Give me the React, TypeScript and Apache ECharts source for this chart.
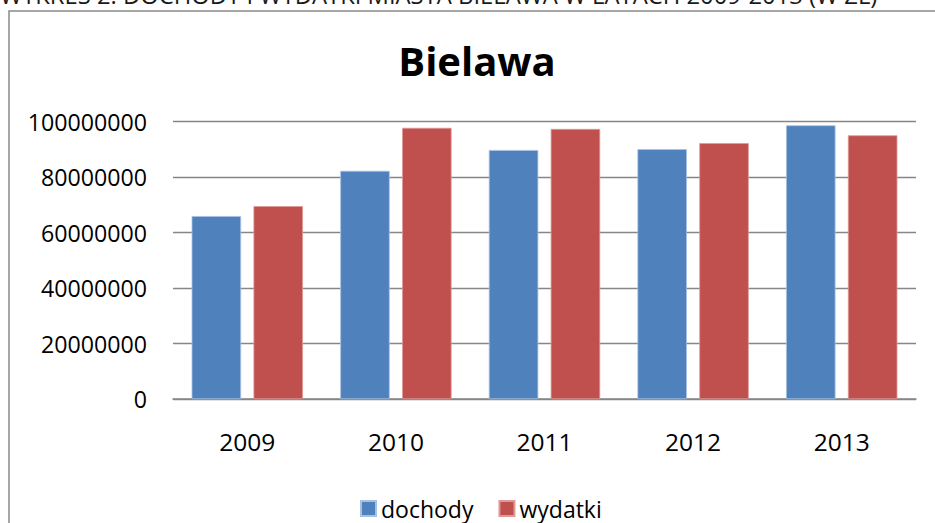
import React, { useEffect, useRef } from "react";
import * as echarts from "echarts";

const years = ["2009", "2010", "2011", "2012", "2013"];
const dochody = [66000000, 82300000, 89800000, 90100000, 98700000];
const wydatki = [69600000, 97800000, 97400000, 92300000, 95100000];
const seriesNames = ["dochody", "wydatki"];
const chartTitle = "Bielawa";
const caption = "WYKRES 2. DOCHODY I WYDATKI MIASTA BIELAWA W LATACH 2009-2013 (W ZŁ)";

const FONT = "'Open Sans', 'Noto Sans', sans-serif";

export default function App() {
  const ref = useRef<HTMLDivElement>(null);
  useEffect(() => {
    document.body.style.margin = "0";
    const chart = echarts.init(ref.current!, null, { renderer: "svg" });
    chart.setOption({
      animation: false,
      backgroundColor: "#ffffff",
      textStyle: { fontFamily: FONT },
      graphic: [
        {
          type: "text",
          x: 0,
          y: 7,
          silent: true,
          style: {
            text: caption,
            font: `23.8px ${FONT}`,
            fill: "#1a1a1a",
            textAlign: "left",
            textVerticalAlign: "bottom",
          },
        },
        {
          type: "rect",
          silent: true,
          shape: { x: 9, y: 11, width: 950, height: 600 },
          style: { fill: "none", stroke: "#898989", lineWidth: 1.5 },
        },
        {
          type: "text",
          x: 477,
          y: 60,
          silent: true,
          style: {
            text: chartTitle,
            font: `bold 40px ${FONT}`,
            fill: "#000000",
            textAlign: "center",
            textVerticalAlign: "middle",
          },
        },
      ],
      legend: {
        data: seriesNames,
        left: 360,
        top: 497,
        padding: 0,
        itemWidth: 15,
        itemHeight: 15,
        itemGap: 25,
        icon: "rect",
        textStyle: { fontSize: 23, color: "#000", fontFamily: FONT },
      },
      grid: {
        left: 173,
        right: 19,
        top: 121.7,
        bottom: 123.8,
        containLabel: false,
        outerBoundsMode: "none",
      },
      xAxis: {
        type: "category",
        data: years,
        axisLine: { show: true, lineStyle: { color: "#868686", width: 1.5 } },
        axisTick: { show: false },
        axisLabel: { fontSize: 24.5, color: "#000", margin: 30, fontFamily: FONT },
        splitLine: { show: false },
      },
      yAxis: {
        type: "value",
        min: 0,
        max: 100000000,
        interval: 20000000,
        axisLine: { show: false },
        axisTick: { show: false },
        axisLabel: {
          fontSize: 23.2,
          color: "#000",
          margin: 26,
          fontFamily: FONT,
          formatter: (v: number) => String(v),
        },
        splitLine: { show: true, lineStyle: { color: "#868686", width: 1.4 } },
      },
      series: [
        {
          name: seriesNames[0],
          type: "bar",
          data: dochody,
          barWidth: 49.5,
          barGap: "25%",
          itemStyle: { color: "#4F81BD", borderColor: "#a9c1e0", borderWidth: 0.8 },
        },
        {
          name: seriesNames[1],
          type: "bar",
          data: wydatki,
          barWidth: 49.5,
          barGap: "25%",
          itemStyle: { color: "#C0504D", borderColor: "#dd9a98", borderWidth: 0.8 },
        },
      ],
    });
    return () => chart.dispose();
  }, []);
  return (
    <div
      ref={ref}
      style={{ position: "absolute", left: 0, top: 0, width: 935, height: 523 }}
    />
  );
}
